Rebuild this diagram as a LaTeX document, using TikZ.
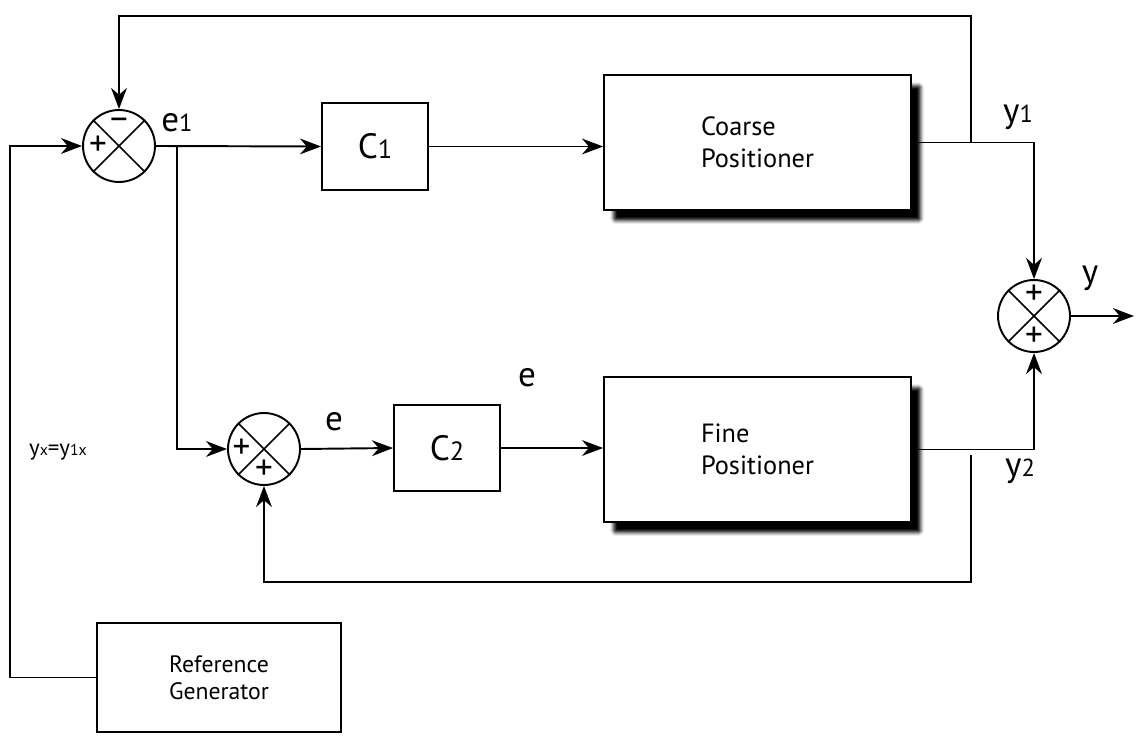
\documentclass[tikz,border=0pt]{standalone}
\usepackage{fontspec}
\setmainfont{PT Sans}
\usetikzlibrary{arrows.meta,shadows.blur}

\begin{document}
\begin{tikzpicture}[x=0.02cm,y=-0.02cm,
  line width=1.1pt,
  arr/.style={-{Stealth[length=12pt,width=9pt]}},
  block/.style={draw,fill=white,inner sep=0pt,align=left},
  plant/.style={block,blur shadow={shadow xshift=5.5pt,shadow yshift=-6pt,shadow opacity=100,shadow blur radius=2pt,shadow blur extra rounding=1pt}},
  sumj/.style={draw,circle,minimum size=1.44cm,inner sep=0pt,fill=white},
  sgn/.style={font=\fontsize{20}{20}\selectfont,inner sep=0pt},
  lbl/.style={font=\fontsize{20}{22}\selectfont,inner sep=0pt}]
\useasboundingbox (0,0) rectangle (1138,743);

% summing junctions
\node[sumj] (s1) at (119,146) {};
\node[sumj] (s2) at (264,449) {};
\node[sumj] (s3) at (1034,316) {};
\foreach \s in {s1,s2,s3} {\draw[line width=0.9pt] (\s.north west) -- (\s.south east) (\s.north east) -- (\s.south west);}
\node[sgn] at ([xshift=-0.42cm]s1.center) {+};
\node[sgn] at ([yshift=0.45cm]s1.center) {–};
\node[sgn] at ([xshift=-0.45cm]s2.center) {+};
\node[sgn] at ([yshift=-0.42cm]s2.center) {+};
\node[sgn] at ([yshift=0.42cm]s3.center) {+};
\node[sgn] at ([yshift=-0.42cm]s3.center) {+};

% blocks
\node[block,minimum width=2.12cm,minimum height=1.74cm,font=\fontsize{20}{22}\selectfont] (c1) at (375,146.5) {C{\fontsize{15}{17}\selectfont 1}};
\node[block,minimum width=2.12cm,minimum height=1.72cm,font=\fontsize{20}{22}\selectfont] (c2) at (447,448) {C{\fontsize{15}{17}\selectfont 2}};
\node[plant,minimum width=6.14cm,minimum height=2.7cm,font=\fontsize{15}{18}\selectfont] (coarse) at (757.5,142.5) {Coarse\\Positioner};
\node[plant,minimum width=6.14cm,minimum height=2.9cm,font=\fontsize{15}{18}\selectfont] (fine) at (757.5,449.5) {Fine\\Positioner};
\node[block,align=center,minimum width=4.88cm,minimum height=2.18cm,font=\fontsize{13.5}{15.5}\selectfont] (ref) at (219,677.5) {Reference\\Generator};

% points on the lines
\coordinate (br) at (177,146);
\coordinate (t1) at (971,142);
\coordinate (t2) at (971,16);
\coordinate (b1) at (971,455);
\coordinate (b2) at (971,582);
\coordinate (rl) at (10,678);
\coordinate (out) at (1134,316);

% forward paths
\draw[arr] (s1.east) -- (c1.west);
\draw[arr] (c1.east) -- (c1.east -| coarse.west);
\draw[arr] (br) |- (s2.west);
\draw[arr] (s2.east) -- (c2.west);
\draw[arr] (c2.east) -- (c2.east -| fine.west);
\draw[arr] (coarse.east) -| (s3.north);
\draw[arr] (fine.east) -| (s3.south);
\draw[arr] (s3.east) -- (out);

% feedback and reference
\draw[arr] (t1) -- (t2) -| (s1.north);
\draw[arr] (b1) -- (b2) -| (s2.south);
\draw[arr] (ref.west) -- (ref.west -| rl) |- (s1.west);

% labels
\node[lbl] at (177,123) {e{\fontsize{14}{16}\selectfont 1}};
\node[lbl] at (1018,117) {y{\fontsize{14}{16}\selectfont 1}};
\node[lbl] at (1020,471) {y{\fontsize{14}{16}\selectfont 2}};
\node[lbl] at (1090,278) {y};
\node[lbl] at (334,422) {e};
\node[lbl] at (527,378) {e};
\node[inner sep=0pt,font=\fontsize{13}{15}\selectfont] at (58,452) {y{\fontsize{9}{11}\selectfont x}=y{\fontsize{9}{11}\selectfont 1x}};
\end{tikzpicture}
\end{document}
